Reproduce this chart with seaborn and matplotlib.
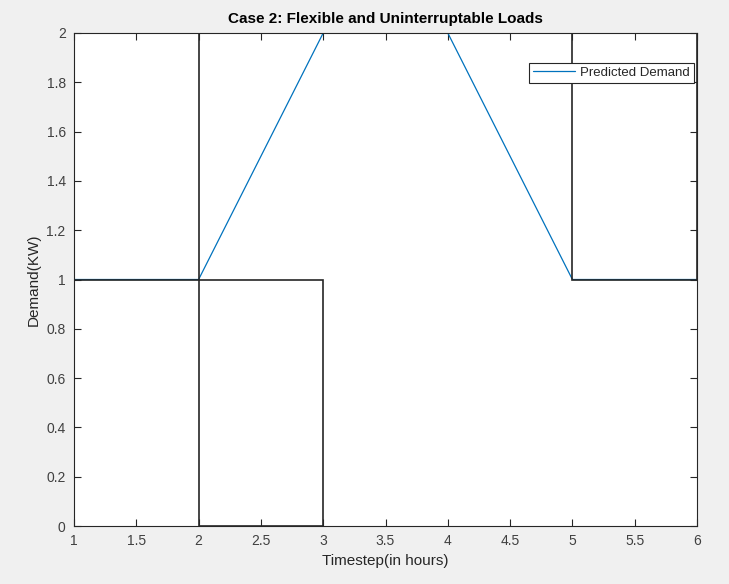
import matplotlib
matplotlib.use("Agg")
import matplotlib.pyplot as plt
import seaborn as sns
import pandas as pd
from matplotlib.ticker import FuncFormatter

# Data
timestep = [1, 2, 3, 4, 5, 6]
predicted_demand = [1, 1, 2, 2, 1, 1]

# Uninterruptable load blocks (start hour, duration, base, height)
block_start = [1, 2, 5]
block_width = [1, 1, 1]
block_bottom = [1, 0, 1]
block_height = [1, 1, 1]

x_ticks = [1, 1.5, 2, 2.5, 3, 3.5, 4, 4.5, 5, 5.5, 6]
y_ticks = [0, 0.2, 0.4, 0.6, 0.8, 1, 1.2, 1.4, 1.6, 1.8, 2]

sns.set_theme(style="white")
plt.rcParams['font.family'] = ['Liberation Sans', 'DejaVu Sans']

fig = plt.figure(figsize=(7.29, 5.84), dpi=100, facecolor="#f0f0f0")
ax = fig.add_axes([74/729, 1 - 526/584, (697-74)/729, (526-33)/584])
ax.set_facecolor("white")

df = pd.DataFrame({"Timestep": timestep, "Demand": predicted_demand})
sns.lineplot(data=df, x="Timestep", y="Demand", ax=ax, color="#0072BD",
             linewidth=0.9, label="Predicted Demand", zorder=2)

ax.bar(block_start, block_height, width=block_width, bottom=block_bottom,
       align="edge", fill=False, edgecolor="#262626", linewidth=1.2, zorder=3)

ax.set_xlim(1, 6)
ax.set_ylim(0, 2)
ax.set_xticks(x_ticks)
ax.set_yticks(y_ticks)
fmt = FuncFormatter(lambda v, p: ("%g" % round(v, 2)))
ax.xaxis.set_major_formatter(fmt)
ax.yaxis.set_major_formatter(fmt)

ax.tick_params(direction="in", length=5, width=0.8, colors="#262626",
               labelsize=10, top=True, right=True, bottom=True, left=True,
               labeltop=False, labelright=False, pad=6)
ax.tick_params(labelcolor="#404040")
for s in ax.spines.values():
    s.set_visible(True)
    s.set_color("#262626")
    s.set_linewidth(0.8)

ax.set_xlabel("Timestep(in hours)", fontsize=11, color="#262626", labelpad=4)
ax.set_ylabel("Demand(KW)", fontsize=11, color="#262626", labelpad=4)
ax.set_title("Case 2: Flexible and Uninterruptable Loads", fontsize=11,
             fontweight="bold", color="black", pad=7)

leg = ax.legend(loc="upper right", bbox_to_anchor=(0.995, 0.94), fontsize=9.5,
                frameon=True, fancybox=False, edgecolor="#262626",
                borderpad=0.3, handlelength=3.2, handletextpad=0.4,
                borderaxespad=0)
leg.get_frame().set_linewidth(0.8)
leg.get_frame().set_facecolor("white")
leg.get_frame().set_alpha(1)

fig.savefig("out.png", dpi=100, facecolor=fig.get_facecolor())
